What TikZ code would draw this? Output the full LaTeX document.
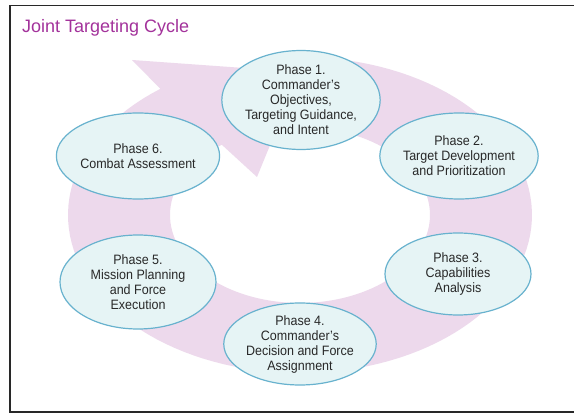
\documentclass[tikz,border=0pt]{standalone}
\usepackage{fontspec}
\setmainfont{Liberation Sans}
\newfontfamily\phasefont[FakeStretch=0.92]{Liberation Sans}
\usetikzlibrary{shapes.geometric}
\definecolor{ringpink}{RGB}{237,217,236}
\definecolor{ellfill}{RGB}{230,244,245}
\definecolor{elldraw}{RGB}{104,178,206}
\definecolor{txt}{RGB}{40,40,40}
\definecolor{titlec}{RGB}{163,50,155}
\definecolor{framec}{RGB}{40,40,40}
\begin{document}
\begin{tikzpicture}[x=1pt,y=-1pt,
  phase/.style={ellipse, draw=elldraw, fill=ellfill, line width=1.2pt, inner sep=0pt,
    align=center, text=txt, font=\phasefont\fontsize{13.6}{15}\selectfont}]
\useasboundingbox (0,0) rectangle (574,414);
\fill[white] (0,0) rectangle (574,414);
\draw[line width=1.5pt, draw=framec] (10,5.5) rectangle (600,412);
\node[anchor=base west, text=titlec, font=\fontsize{18}{21}\selectfont, inner sep=0pt] (title) at (22,33) {Joint Targeting Cycle};
% ring arrow
\fill[ringpink]
  plot[domain=95:-233, samples=120] ({300+232*cos(\x)},{215-158*sin(\x)})
  -- (132,60) -- (300,72) -- (257,177)
  -- plot[domain=-233:95, samples=120] ({300+130*cos(\x)},{215-88*sin(\x)})
  -- cycle;
\node[phase, minimum width=158pt, minimum height=92pt] (p1) at (301,100) {Phase 1.\\Commander’s\\Objectives,\\Targeting Guidance,\\and Intent};
\node[phase, minimum width=152pt, minimum height=86pt] (p2) at (459,156) {Phase 2.\\Target Development\\and Prioritization};
\node[phase, minimum width=146pt, minimum height=82pt] (p3) at (458,274) {Phase 3.\\Capabilities\\Analysis};
\node[phase, minimum width=150pt, minimum height=82pt] (p4) at (300,344) {Phase 4.\\Commander’s\\Decision and Force\\Assignment};
\node[phase, minimum width=156pt, minimum height=94pt] (p5) at (138,282) {Phase 5.\\Mission Planning\\and Force\\Execution};
\node[phase, minimum width=152pt, minimum height=86pt] (p6) at (138,156) {Phase 6.\\Combat Assessment};
\end{tikzpicture}
\end{document}
